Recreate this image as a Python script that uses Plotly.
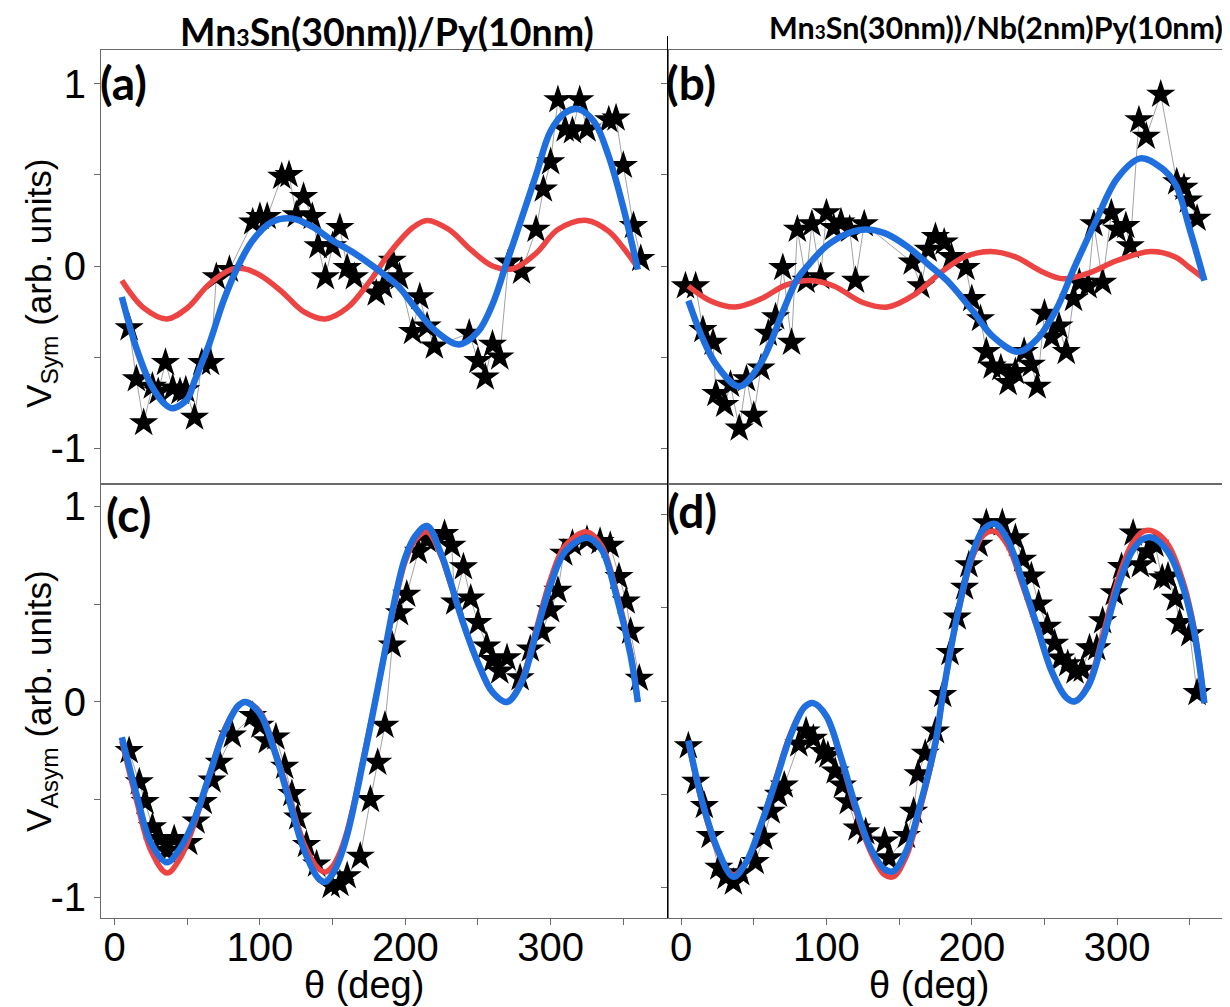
import plotly.graph_objects as go
from plotly.subplots import make_subplots

# ---------------- data ----------------
# (a) Mn3Sn/Py  V_Sym
theta_a = [10, 15, 20, 26, 30, 35, 40, 45, 49, 55, 60, 66, 70, 79, 95, 100, 105, 115, 120, 125,
           130, 136, 140, 145, 150, 155, 160, 165, 180, 185, 191, 196, 205, 210, 215, 220, 244, 250, 255, 260,
           265, 271, 280, 290, 295, 300, 305, 310, 315, 320, 325, 340, 345, 350, 357, 362]
data_a = [-0.34, -0.62, -0.86, -0.66, -0.69, -0.53, -0.67, -0.69, -0.68, -0.83,
          -0.53, -0.53, -0.06, -0.02, 0.24, 0.27, 0.27, 0.49, 0.50, 0.28,
          0.38, 0.27, 0.11, -0.06, 0.11, 0.21, -0.01, -0.06, -0.15, -0.11,
          0.03, -0.06, -0.36, -0.17, -0.33, -0.44, -0.37, -0.52, -0.61, -0.43,
          -0.50, 0.02, -0.03, 0.20, 0.42, 0.57, 0.91, 0.75, 0.74, 0.91,
          0.75, 0.80, 0.81, 0.55, 0.22, 0.04]
red_theta_a = [5, 20, 36, 50, 65, 80, 89, 100, 115, 130, 145, 160, 175, 190, 205, 215, 230, 245, 260, 274,
               290, 305, 325, 340, 350, 360]
red_a = [-0.08, -0.23, -0.29, -0.23, -0.10, -0.02, -0.015, -0.05, -0.14, -0.25, -0.29, -0.23, -0.09, 0.08,
         0.21, 0.25, 0.20, 0.09, 0.0, -0.015, 0.07, 0.20, 0.25, 0.19, 0.10, -0.01]
blue_theta_a = [5, 15, 25, 35, 40, 50, 55, 65, 75, 85, 95, 108, 122, 135, 150, 165, 181, 195, 205, 220,
                237, 250, 260, 269, 280, 290, 300, 310, 319, 330, 340, 350, 360]
blue_a = [-0.17, -0.45, -0.65, -0.76, -0.78, -0.73, -0.63, -0.43, -0.19, 0.0, 0.14, 0.24, 0.26, 0.22,
          0.14, 0.07, -0.02, -0.11, -0.21, -0.35, -0.43, -0.36, -0.21, 0.0, 0.26, 0.50, 0.74, 0.84,
          0.86, 0.79, 0.60, 0.32, -0.02]

# (b) Mn3Sn/Nb/Py  V_Sym
theta_b = [3, 10, 15, 22, 24, 30, 34, 40, 45, 50, 55, 60, 65, 70, 76, 80, 86, 90, 96, 100,
           105, 110, 116, 120, 126, 159, 165, 170, 175, 181, 186, 196, 200, 206, 210, 214, 220, 225, 230, 236,
           241, 245, 250, 255, 260, 265, 270, 274, 280, 284, 290, 296, 300, 306, 309, 315, 320, 330, 341, 346,
           349, 355]
data_b = [-0.11, -0.11, -0.35, -0.42, -0.70, -0.76, -0.65, -0.89, -0.62, -0.82,
          -0.56, -0.37, -0.28, -0.01, -0.42, 0.20, -0.08, 0.23, -0.06, 0.29,
          0.21, 0.24, 0.20, -0.08, 0.23, 0.02, -0.11, 0.09, 0.16, 0.13,
          0.05, -0.01, -0.18, -0.29, -0.47, -0.55, -0.56, -0.64, -0.58, -0.47,
          -0.54, -0.66, -0.26, -0.39, -0.33, -0.47, -0.18, -0.09, -0.11, 0.23,
          -0.09, 0.29, 0.20, 0.22, 0.11, 0.80, 0.71, 0.94, 0.46, 0.43,
          0.36, 0.26]
red_theta_b = [5, 20, 37, 55, 72, 89, 105, 125, 142, 160, 178, 195, 213, 230, 248, 263, 280, 300, 323, 340,
               350, 360]
red_b = [-0.11, -0.19, -0.225, -0.18, -0.105, -0.08, -0.11, -0.20, -0.225, -0.16, -0.04, 0.05, 0.08, 0.05,
         -0.03, -0.07, -0.04, 0.03, 0.08, 0.05, -0.01, -0.07]
blue_theta_b = [5, 15, 25, 40, 55, 70, 80, 87, 100, 115, 127, 140, 155, 170, 183, 200, 215, 232, 245, 258,
                271, 285, 300, 316, 330, 340, 350, 360]
blue_b = [-0.19, -0.40, -0.55, -0.66, -0.53, -0.25, -0.07, 0.0, 0.11, 0.18, 0.20, 0.18, 0.11, 0.01, -0.08,
          -0.24, -0.39, -0.47, -0.40, -0.24, 0.0, 0.24, 0.48, 0.59, 0.54, 0.45, 0.20, -0.08]

# (c) Mn3Sn/Py  V_Asym
theta_c = [10, 17, 21, 26, 31, 36, 41, 51, 56, 61, 67, 72, 81, 95, 100, 105, 111, 117, 122, 126,
           132, 139, 149, 155, 160, 169, 176, 181, 186, 191, 196, 201, 209, 215, 227, 232, 234, 240, 245, 250,
           256, 260, 265, 270, 279, 286, 294, 300, 305, 309, 315, 325, 334, 341, 347, 352, 355, 361]
data_c = [-0.25, -0.41, -0.51, -0.64, -0.70, -0.76, -0.70, -0.72, -0.61, -0.51,
          -0.40, -0.31, -0.17, -0.07, -0.12, -0.20, -0.18, -0.33, -0.47, -0.59,
          -0.73, -0.83, -0.94, -0.93, -0.89, -0.79, -0.50, -0.31, -0.12, 0.29,
          0.455, 0.55, 0.77, 0.83, 0.86, 0.80, 0.51, 0.69, 0.53, 0.405,
          0.285, 0.216, 0.157, 0.225, 0.123, 0.27, 0.36, 0.47, 0.57, 0.76,
          0.81, 0.83, 0.82, 0.80, 0.64, 0.515, 0.36, 0.12]
fit_theta_c = [5, 15, 25, 36, 45, 55, 65, 75, 85, 90, 100, 110, 120, 130, 140, 145, 150, 155, 160, 165,
               170, 175, 180, 185, 190, 195, 200, 207, 215, 225, 230, 240, 250, 260, 270, 280, 290, 300, 310, 325,
               335, 345, 355, 360]
red_c = [-0.20, -0.50, -0.76, -0.875, -0.80, -0.62, -0.38, -0.15, -0.02, 0.0,
         -0.05, -0.24, -0.48, -0.72, -0.85, -0.87, -0.84, -0.77, -0.66, -0.51,
         -0.33, -0.15, 0.03, 0.22, 0.41, 0.58, 0.72, 0.83, 0.87, 0.74,
         0.63, 0.40, 0.20, 0.05, 0.0, 0.11, 0.37, 0.63, 0.80, 0.87,
         0.80, 0.57, 0.25, 0.0]
blue_c = [-0.18, -0.47, -0.72, -0.82, -0.75, -0.60, -0.38, -0.16, -0.02, 0.0,
          -0.06, -0.25, -0.50, -0.75, -0.90, -0.92, -0.88, -0.80, -0.68, -0.52,
          -0.34, -0.16, 0.03, 0.22, 0.42, 0.60, 0.74, 0.85, 0.90, 0.75,
          0.64, 0.40, 0.20, 0.05, 0.0, 0.10, 0.35, 0.60, 0.77, 0.84,
          0.78, 0.55, 0.24, 0.0]

# (d) Mn3Sn/Nb/Py  V_Asym
theta_d = [5, 10, 16, 20, 26, 31, 36, 41, 51, 57, 62, 67, 71, 81, 86, 91, 98, 101, 106, 111,
           115, 121, 127, 140, 143, 155, 160, 163, 168, 175, 180, 185, 190, 195, 198, 205, 210, 221, 230, 235,
           241, 246, 252, 257, 261, 266, 271, 276, 281, 286, 290, 298, 303, 311, 316, 321, 326, 331, 335, 340,
           343, 350, 355]
data_d = [-0.24, -0.43, -0.56, -0.72, -0.89, -0.94, -0.97, -0.92, -0.86, -0.73,
          -0.59, -0.50, -0.45, -0.23, -0.16, -0.20, -0.27, -0.29, -0.375, -0.45,
          -0.54, -0.68, -0.70, -0.75, -0.84, -0.72, -0.59, -0.39, -0.28, -0.16,
          0.035, 0.26, 0.45, 0.61, 0.73, 0.84, 0.955, 0.955, 0.875, 0.76,
          0.67, 0.52, 0.40, 0.31, 0.23, 0.20, 0.16, 0.17, 0.285, 0.285,
          0.43, 0.58, 0.72, 0.90, 0.73, 0.80, 0.84, 0.66, 0.67, 0.55,
          0.42, 0.36, 0.045]
fit_theta_d = [5, 15, 25, 36, 45, 55, 65, 75, 85, 91, 100, 110, 120, 130, 140, 146, 155, 165, 175, 180,
               190, 200, 208, 216, 225, 235, 245, 255, 265, 271, 280, 290, 300, 310, 318, 325, 335, 345, 353, 360]
red_d = [-0.22, -0.56, -0.80, -0.93, -0.86, -0.66, -0.42, -0.18, -0.03, -0.01,
         -0.08, -0.31, -0.58, -0.80, -0.93, -0.94, -0.83, -0.56, -0.23, 0.03,
         0.45, 0.76, 0.89, 0.91, 0.83, 0.62, 0.39, 0.16, 0.02, 0.0,
         0.09, 0.35, 0.64, 0.84, 0.91, 0.91, 0.84, 0.65, 0.39, -0.01]
blue_d = [-0.21, -0.55, -0.79, -0.94, -0.86, -0.66, -0.43, -0.19, -0.03, -0.01,
          -0.08, -0.30, -0.56, -0.78, -0.90, -0.91, -0.80, -0.54, -0.22, 0.03,
          0.46, 0.78, 0.92, 0.95, 0.86, 0.64, 0.40, 0.16, 0.02, 0.0,
          0.08, 0.32, 0.60, 0.80, 0.87, 0.875, 0.80, 0.62, 0.37, -0.01]

x_tick_vals = [0, 50, 100, 150, 200, 250, 300, 350]
x_tick_text = ["0", "", "100", "", "200", "", "300", ""]
y_tick_vals = [-1, -0.5, 0, 0.5, 1]
y_tick_text = ["-1", "", "0", "", "1"]

titles = ["Mn<span style='font-size:23px'>3</span>Sn(30nm))/Py(10nm)",
          "Mn<span style='font-size:19px'>3</span>Sn(30nm))/Nb(2nm)Py(10nm)"]
panel_labels = ["(a)", "(b)", "(c)", "(d)"]

# ---------------- figure ----------------
RED = "#ec4343"
BLUE = "#1f6fde"
fig = make_subplots(rows=2, cols=2, horizontal_spacing=0, vertical_spacing=0)

panels = [
    (1, 1, theta_a, data_a, red_theta_a, red_a, blue_theta_a, blue_a),
    (1, 2, theta_b, data_b, red_theta_b, red_b, blue_theta_b, blue_b),
    (2, 1, theta_c, data_c, fit_theta_c, red_c, fit_theta_c, blue_c),
    (2, 2, theta_d, data_d, fit_theta_d, red_d, fit_theta_d, blue_d),
]
for r, c, tx, ty, rx, ry, bx, by in panels:
    fig.add_trace(go.Scatter(x=tx, y=ty, mode="lines+markers",
                             line=dict(color="#8a8a8a", width=0.8),
                             marker=dict(symbol="star", size=22, color="black", line=dict(width=0)),
                             showlegend=False), row=r, col=c)
    fig.add_trace(go.Scatter(x=rx, y=ry, mode="lines",
                             line=dict(color=RED, width=5.5, shape="spline", smoothing=1.0),
                             showlegend=False), row=r, col=c)
    fig.add_trace(go.Scatter(x=bx, y=by, mode="lines",
                             line=dict(color=BLUE, width=6.5, shape="spline", smoothing=1.0),
                             showlegend=False), row=r, col=c)

tick_font = dict(family="Liberation Sans, Arial, sans-serif", size=40, color="black")
axis_line = dict(showline=True, mirror=True, linecolor="#6a6a6a", linewidth=1,
                 showgrid=False, zeroline=False)

xrange = [-9.35, 380.4]
yranges = {(1, 1): [-1.195, 1.184], (1, 2): [-1.195, 1.184],
           (2, 1): [-1.105, 1.115], (2, 2): [-1.161, 1.164]}
for (r, c), yr in yranges.items():
    if r == 1:
        fig.update_xaxes(range=xrange, ticks="", showticklabels=False, row=r, col=c, **axis_line)
    else:
        fig.update_xaxes(range=xrange, tickmode="array", tickvals=x_tick_vals, ticktext=x_tick_text,
                         ticks="outside", ticklen=6, tickwidth=1, tickcolor="#6a6a6a",
                         ticklabelstandoff=-12,
                         tickfont=tick_font, row=r, col=c, **axis_line)
    fig.update_yaxes(range=yr, tickmode="array", tickvals=y_tick_vals,
                     ticktext=y_tick_text if c == 1 else [""] * 5,
                     ticks="outside", ticklen=6, tickwidth=1, tickcolor="#6a6a6a",
                     tickfont=tick_font, row=r, col=c, **axis_line)

annotations = []
title_font = dict(family="Lato, Open Sans, sans-serif", color="black")
annotations.append(dict(text="<b>" + titles[0] + "</b>", x=0.252, y=1.0484, xref="paper", yref="paper",
                        xanchor="center", yanchor="top", showarrow=False, borderpad=0,
                        font=dict(size=37.5, **title_font)))
annotations.append(dict(text="<b>" + titles[1] + "</b>", x=0.7895, y=1.0484, xref="paper", yref="paper",
                        xanchor="center", yanchor="top", showarrow=False, borderpad=0,
                        font=dict(size=30.5, **title_font)))
label_pos = [(-0.0018, 0.962), (0.4982, 0.962), (0.0031, 0.4654), (0.4991, 0.4689)]
for lab, (lx, ly) in zip(panel_labels, label_pos):
    annotations.append(dict(text="<b>" + lab + "</b>", x=lx, y=ly, xref="paper", yref="paper",
                            xanchor="left", yanchor="middle", showarrow=False, borderpad=0,
                            font=dict(size=46, **title_font)))
ytitle_font = dict(family="Liberation Sans, Arial, sans-serif", size=35, color="black")
annotations.append(dict(text="V<sub>Sym</sub> (arb. units)", x=-0.053, y=0.7316, xref="paper", yref="paper",
                        textangle=-90, xanchor="center", yanchor="middle", showarrow=False, font=ytitle_font))
annotations.append(dict(text="V<sub>Asym</sub> (arb. units)", x=-0.053, y=0.25, xref="paper", yref="paper",
                        textangle=-90, xanchor="center", yanchor="middle", showarrow=False, font=ytitle_font))
for xx in (0.2321, 0.7308):
    annotations.append(dict(text="θ (deg)", x=xx, y=-0.0772, xref="paper", yref="paper",
                            xanchor="center", yanchor="middle", showarrow=False, borderpad=0,
                            font=dict(family="Liberation Sans, Arial, sans-serif", size=38, color="black")))

fig.update_layout(
    width=1230, height=1007,
    margin=dict(l=93, r=4, t=42, b=97),
    paper_bgcolor="white", plot_bgcolor="white",
    annotations=annotations,
    shapes=[dict(type="line", xref="paper", yref="paper", x0=0.5, x1=0.5, y0=0, y1=1.016,
                 line=dict(color="black", width=1))],
)

fig.write_html("out.html")
